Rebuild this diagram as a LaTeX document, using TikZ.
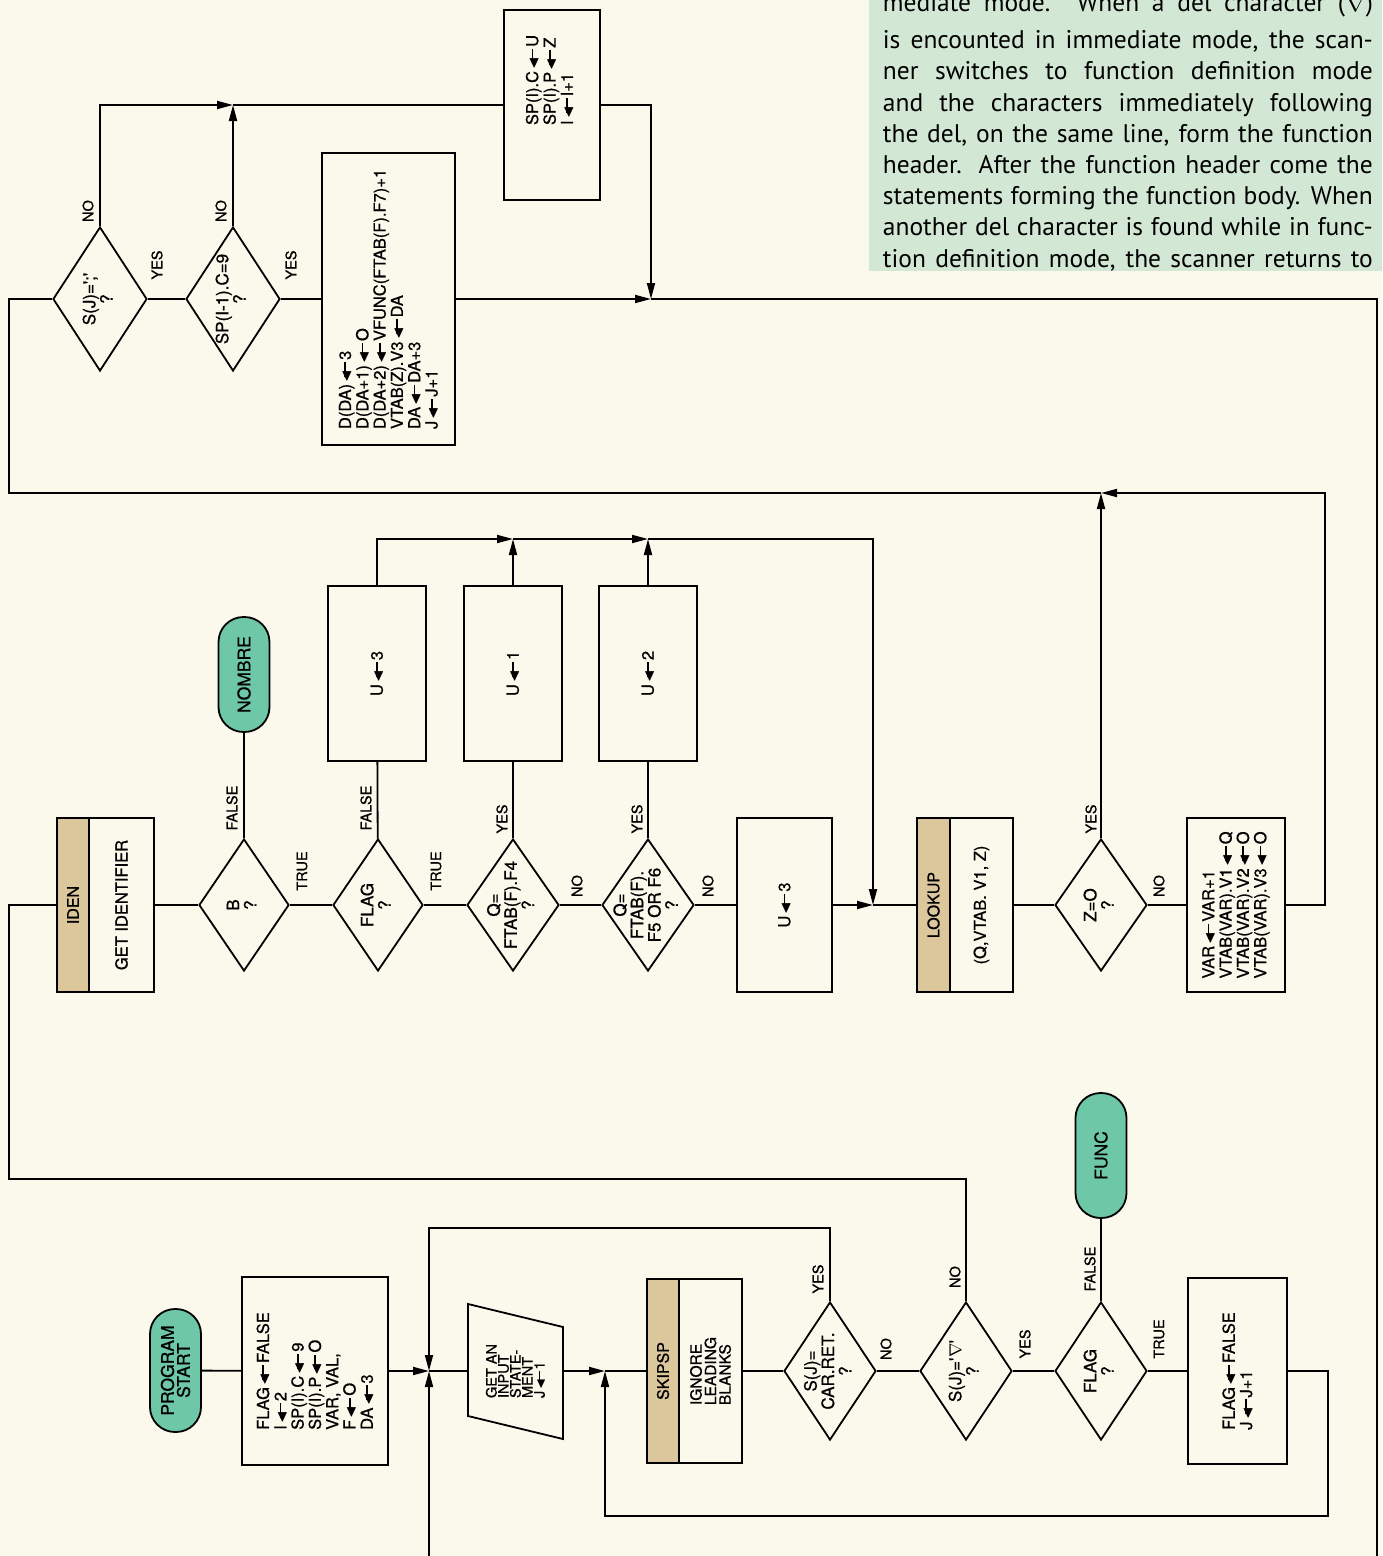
\documentclass[tikz,border=0pt]{standalone}
\usepackage{amssymb}
\usepackage{graphicx}
\usepackage{fontspec}
\usepackage{tikz}
\usetikzlibrary{shapes.geometric,arrows.meta}
\newfontfamily\chartfont[FakeBold=0.8]{TeX Gyre Heros}
\newfontfamily\notefont{PT Sans}
\definecolor{paper}{RGB}{251,248,236}
\definecolor{notegreen}{RGB}{210,231,212}
\definecolor{termgreen}{RGB}{110,199,167}
\definecolor{tanbar}{RGB}{220,198,156}
\newcommand{\asgn}{\kern.1em\raisebox{.0em}{\scalebox{.95}{$\blacktriangleleft$}}\kern-.4em\rule[.3em]{.9em}{.1em}\kern.12em}
\newcommand{\dtxt}[1]{\makebox[0pt]{\smash{\raisebox{-.25em}{\begin{tabular}{@{}c@{}}#1\end{tabular}}}}}
\newcommand{\jl}[1]{\makebox[490pt][s]{#1}}
\begin{document}
\begin{tikzpicture}[x=1pt,y=-1pt,line width=1.8pt,
 box/.style={draw,rotate=90,align=left,inner sep=0pt,font=\chartfont\fontsize{16.5}{17.3}\selectfont},
 bar/.style={box,fill=tanbar,align=center,font=\chartfont\fontsize{16}{16}\selectfont},
 term/.style={draw,fill=termgreen,rotate=90,rounded corners=25pt,align=center,inner sep=0pt,minimum height=51pt,font=\chartfont\fontsize{17.5}{16}\selectfont},
 dec/.style={draw,diamond,rotate=90,inner sep=0pt,font=\chartfont\fontsize{17}{15.5}\selectfont},
 lbl/.style={rotate=90,inner sep=0pt,font=\chartfont\fontsize{14.5}{14.5}\selectfont},
 arr/.style={-{Triangle[length=16pt,width=8pt]}}]
\path[use as bounding box,clip] (0,0) rectangle (1382,1556);
\fill[paper] (0,0) rectangle (1382,1556);
\node[fill=notegreen,anchor=south west,inner xsep=14pt,inner ysep=0pt,text depth=4pt,align=left,
 font=\notefont\fontsize{25.5}{31.2}\selectfont] (note) at (868,272)
 {\jl{mediate mode. When a del character ($\nabla$)}\\[6pt]
  \jl{is encounted in immediate mode, the scan-}\\
  \jl{ner switches to function definition mode}\\
  \jl{and the characters immediately following}\\
  \jl{the del, on the same line, form the function}\\
  \jl{header.  After the function header come the}\\
  \jl{statements forming the function body. When}\\
  \jl{another del character is found while in func-}\\
  \jl{tion definition mode, the scanner returns to}};

\node[dec,minimum width=144pt,minimum height=94pt] (d1) at (100,299) {\dtxt{S(J)=\textquotesingle;\textquotesingle\\?}};
\node[dec,minimum width=144pt,minimum height=94pt] (d2) at (233,299) {\dtxt{SP(I-1).C=9\\?}};
\node[box,minimum width=292pt,minimum height=133pt] (da) at (388.5,299)
 {D(DA)\asgn 3\\D(DA+1)\asgn O\\D(DA+2)\asgn VFUNC(FTAB(F).F7)+1\\VTAB(Z).V3\asgn DA\\DA\asgn DA+3\\J\asgn J+1};
\node[box,minimum width=190pt,minimum height=96pt] (sp) at (552,105)
 {\hspace*{50pt}\begin{tabular}{@{}l@{}}SP(I).C\asgn U\\SP(I).P\asgn Z\\I\asgn I+1\end{tabular}};
\coordinate (j1) at (233,105);
\coordinate (j2) at (651,299);
\coordinate (j3) at (1101,493);
\coordinate (lc) at (9,493);
\coordinate (rc) at (1325,493);
\coordinate (outR) at (1377,1556);
\node[lbl] (d1yes) at (157,265) {YES};
\node[lbl] (d1no) at (88,211) {NO};
\node[lbl] (d2yes) at (291,265) {YES};
\node[lbl] (d2no) at (221,211) {NO};

\node[bar,minimum width=174pt,minimum height=32pt] (idenbar) at (73,905) {IDEN};
\node[box,minimum width=174pt,minimum height=65pt,align=center] (iden) at (121.5,905) {GET IDENTIFIER};
\node[dec,minimum width=132pt,minimum height=90pt] (db) at (244,905) {\dtxt{B\\?}};
\node[term,minimum width=115pt] (nombre) at (244,674.5) {NOMBRE};
\node[dec,minimum width=132pt,minimum height=90pt] (dflag) at (378,905) {\dtxt{FLAG\\?}};
\node[box,minimum width=175pt,minimum height=98pt,align=center] (u3a) at (377,673.5) {U\asgn 3};
\node[dec,minimum width=132pt,minimum height=92pt] (dq1) at (513,905) {\dtxt{Q=\\FTAB(F).F4\\?}};
\node[box,minimum width=175pt,minimum height=98pt,align=center] (u1) at (513,673.5) {U\asgn 1};
\node[dec,minimum width=132pt,minimum height=92pt] (dq2) at (648,905) {\dtxt{Q=\\FTAB(F).\\F5 OR F6\\?}};
\node[box,minimum width=175pt,minimum height=98pt,align=center] (u2) at (648,673.5) {U\asgn 2};
\node[box,minimum width=174pt,minimum height=95pt,align=center] (u3b) at (784.5,905) {U\asgn 3};
\node[bar,minimum width=174pt,minimum height=33pt] (lookbar) at (933.5,905) {LOOKUP};
\node[box,minimum width=174pt,minimum height=63pt,align=center] (look) at (981.5,905) {(Q,VTAB. V1, Z)};
\node[dec,minimum width=132pt,minimum height=92pt] (dz) at (1101,905) {\dtxt{Z=O\\?}};
\node[box,minimum width=174pt,minimum height=98pt] (var) at (1236,905)
 {VAR\asgn VAR+1\\VTAB(VAR).V1\asgn Q\\VTAB(VAR).V2\asgn O\\VTAB(VAR).V3\asgn O};
\coordinate (j4) at (513,539);
\coordinate (j5) at (648,539);
\coordinate (j6) at (873,905);
\coordinate (bl) at (9,1179);
\node[lbl] (dbfalse) at (232,808) {FALSE};
\node[lbl] (dbtrue) at (302,871) {TRUE};
\node[lbl] (dflagfalse) at (366,808) {FALSE};
\node[lbl] (dflagtrue) at (436,871) {TRUE};
\node[lbl] (dq1yes) at (502,819) {YES};
\node[lbl] (dq1no) at (577,886) {NO};
\node[lbl] (dq2yes) at (637,819) {YES};
\node[lbl] (dq2no) at (708,886) {NO};
\node[lbl] (dzyes) at (1091,819) {YES};
\node[lbl] (dzno) at (1159,886) {NO};

\node[term,minimum width=123pt] (start) at (175.5,1370.5) {PROGRAM\\START};
\node[box,minimum width=188pt,minimum height=146pt] (init) at (315,1371)
 {FLAG\asgn FALSE\\I\asgn 2\\SP(I).C\asgn 9\\SP(I).P\asgn O\\VAR, VAL,\\F\asgn O\\DA\asgn 3};
\node[box,draw=none,minimum width=136pt,minimum height=95pt,font=\chartfont\fontsize{14.5}{12}\selectfont] (inp) at (515.5,1371)
 {GET AN\\INPUT\\STATE-\\MENT\\J\asgn 1};
\draw[shift={(inp)}] (-47.5,-67) -- (47.5,-44) -- (47.5,68) -- (-47.5,45) -- cycle;
\node[bar,minimum width=184pt,minimum height=32pt] (skipbar) at (663,1371) {SKIPSP};
\node[box,minimum width=184pt,minimum height=63pt,font=\chartfont\fontsize{15.5}{14.5}\selectfont] (skip) at (710.5,1371) {IGNORE\\LEADING\\BLANKS};
\node[dec,minimum width=138pt,minimum height=92pt] (dcr) at (830,1371) {\dtxt{S(J)=\\CAR.RET.\\?}};
\node[dec,minimum width=138pt,minimum height=92pt] (ddel) at (966,1371) {\dtxt{S(J)=\textquotesingle$\nabla$\textquotesingle\\?}};
\node[dec,minimum width=138pt,minimum height=92pt] (dflag2) at (1101,1371) {\dtxt{FLAG\\?}};
\node[term,minimum width=125pt] (func) at (1101,1155.5) {FUNC};
\node[box,minimum width=186pt,minimum height=99pt] (fl) at (1237.5,1371) {FLAG\asgn FALSE\\J\asgn J+1};
\coordinate (j7) at (429,1371);
\coordinate (j8) at (605,1371);
\coordinate (tl) at (429,1228);
\coordinate (br) at (1328,1516);
\coordinate (outL) at (429,1556);
\node[lbl] (dcryes) at (818,1279) {YES};
\node[lbl] (dcrno) at (886,1349) {NO};
\node[lbl] (ddelno) at (955,1277) {NO};
\node[lbl] (ddelyes) at (1025,1344) {YES};
\node[lbl] (dflag2false) at (1090,1269) {FALSE};
\node[lbl] (dflag2true) at (1159,1339) {TRUE};

\draw (d1) -- (d2);
\draw (d2) -- (da);
\draw[arr] (d1) |- (j1);
\draw[arr] (d2) -- (j1);
\draw (j1) -- (sp);
\draw[arr] (sp) -| (j2);
\draw[arr] (da) -- (j2);
\draw (j2) -| (outR);

\draw (iden) -- (db);
\draw (db) -- (dflag);
\draw (dflag) -- (dq1);
\draw (dq1) -- (dq2);
\draw (dq2) -- (u3b);
\draw (db) -- (nombre);
\draw (dflag) -- (u3a);
\draw (dq1) -- (u1);
\draw (dq2) -- (u2);
\draw[arr] (u3a) |- (j4);
\draw[arr] (u1) -- (j4);
\draw[arr] (j4) -- (j5);
\draw[arr] (u2) -- (j5);
\draw[arr] (j5) -| (j6);
\draw[arr] (u3b) -- (j6);
\draw (j6) -- (lookbar);
\draw (look) -- (dz);
\draw (dz) -- (var);
\draw[arr] (dz) -- (j3);
\draw[arr] (var) -| (rc) -- (j3);
\draw (j3) -- (lc) |- (d1);

\draw (start) -- (init);
\draw[arr] (init) -- (j7);
\draw[arr] (dcr) |- (tl) -- (j7);
\draw[arr] (outL) -- (j7);
\draw (j7) -- (inp);
\draw[arr] (inp) -- (j8);
\draw (j8) -- (skipbar);
\draw (skip) -- (dcr);
\draw (dcr) -- (ddel);
\draw (ddel) -- (dflag2);
\draw (dflag2) -- (fl);
\draw (dflag2) -- (func);
\draw[arr] (fl) -| (br) -| (j8);
\draw (ddel) |- (bl) |- (idenbar);
\end{tikzpicture}
\end{document}
